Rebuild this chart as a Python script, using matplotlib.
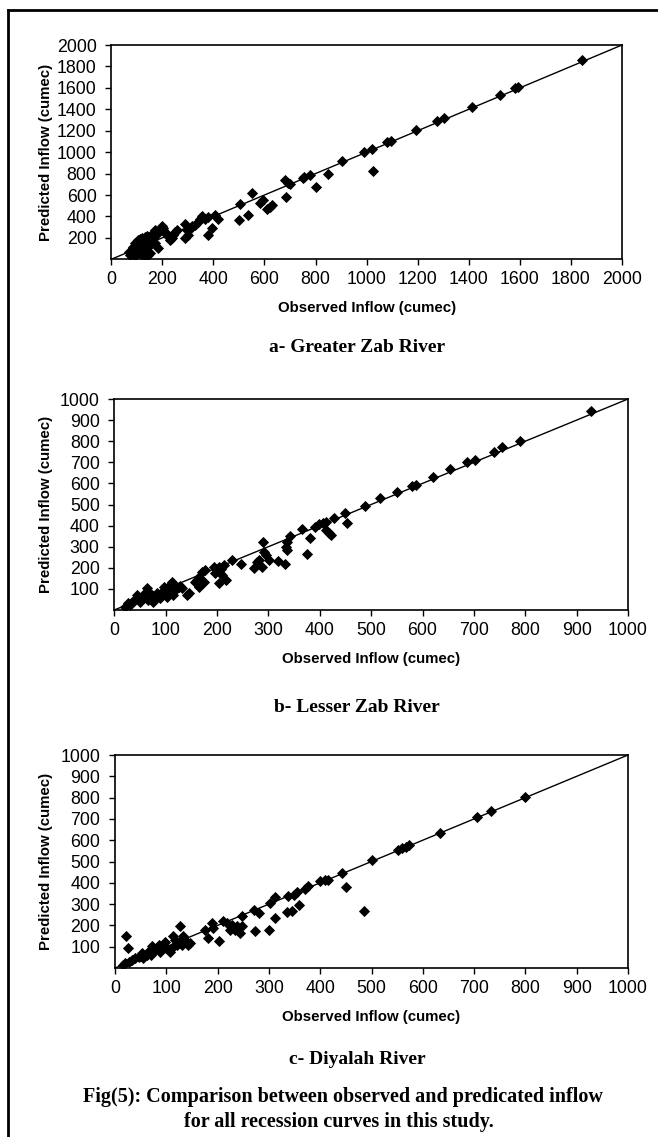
import matplotlib
matplotlib.use("Agg")
import matplotlib.pyplot as plt
from matplotlib.lines import Line2D

# a- Greater Zab River
gz_obs = [74, 70, 80, 87, 93, 100, 106, 113, 119, 126, 132, 139, 145, 152, 158, 165, 171, 178,
          184, 191, 197, 204, 210, 217, 224, 171, 184, 139, 126, 106, 93, 145, 132, 113, 100, 158,
          171, 197, 204, 85, 95, 110, 120, 130, 140, 150, 160, 115, 125, 135, 150, 145, 105, 95,
          237, 243, 250, 256, 230, 289, 295, 302, 289, 308, 315, 328, 341, 348, 354, 367, 380,
          396, 378, 406, 419,
          501, 504, 537, 550, 582, 595, 609, 622, 628, 684, 680, 693, 700, 750, 755, 778, 800,
          850, 905, 990, 1020, 1024, 1079, 1096, 1193, 1276, 1303, 1411, 1522, 1581, 1594, 1842]
gz_pred = [40, 71, 86, 117, 148, 163, 179, 194, 203, 185, 210, 216, 194, 179, 163, 203, 225, 240,
           256, 271, 287, 271, 256, 225, 216, 148, 102, 117, 86, 71, 55, 71, 31, 102, 117, 240,
           277, 308, 296, 60, 90, 140, 160, 150, 180, 130, 200, 50, 120, 90, 60, 40, 130, 30,
           203, 225, 256, 277, 179, 327, 271, 225, 203, 287, 308, 318, 348, 379, 401, 379, 395,
           296, 225, 410, 379,
           370, 518, 416, 620, 527, 549, 466, 487, 509, 580, 740, 713, 703, 760, 770, 790, 673,
           796, 915, 1000, 1030, 821, 1092, 1105, 1205, 1290, 1315, 1420, 1535, 1600, 1610, 1860]

# b- Lesser Zab River
lz_obs = [928, 789, 754, 739, 703, 686, 653, 620, 587, 579, 551, 518, 489,
          450, 453, 428, 412, 406, 399, 391, 412, 417, 422, 381, 376, 366, 342, 336, 334, 337,
          333, 318, 290, 292, 296, 301, 288, 272, 278, 282, 246, 230, 213, 207, 204, 210, 217,
          204, 194, 197, 177, 171, 164, 161, 174, 164, 158, 145, 142, 128, 122,
          112, 109, 106, 102, 99, 96, 93, 86, 83, 80, 73, 66, 63, 60, 53, 47, 44, 40, 34, 31,
          27, 21, 50, 66, 76, 89, 102, 119, 125, 115, 132]
lz_pred = [945, 801, 771, 748, 711, 700, 666, 631, 592, 589, 557, 529, 493,
           458, 411, 434, 415, 411, 407, 395, 379, 366, 355, 340, 265, 382, 351, 324, 300, 284,
           218, 232, 324, 276, 261, 237, 205, 197, 229, 237, 216, 237, 213, 193, 202, 166, 142,
           126, 202, 174, 189, 181, 158, 142, 134, 110, 134, 79, 71, 114, 103,
           134, 118, 110, 95, 79, 110, 87, 71, 79, 55, 71, 87, 102, 79, 63, 55, 71, 47, 39, 23,
           35, 16, 39, 47, 39, 55, 63, 95, 107, 71, 102]

# c- Diyalah River
dy_obs = [800, 733, 706, 634, 574, 567, 559, 552, 501, 486, 451, 442,
          416, 410, 400, 377, 371, 358, 345, 335, 311, 354, 348, 338, 312, 302, 280, 270, 300,
          272, 248, 247, 237, 234, 244, 224, 218, 211, 228, 203, 189, 192, 176, 181, 127,
          133, 136, 130, 124, 117, 114, 143, 146, 111, 107, 97, 94, 85, 78, 72, 65, 62, 52, 46,
          39, 33, 21, 26, 20, 15, 28, 55, 70, 88, 100, 120]
dy_pred = [801, 735, 711, 636, 578, 570, 562, 554, 507, 266, 381, 447,
           415, 411, 408, 384, 373, 297, 266, 261, 237, 356, 345, 340, 332, 305, 258, 274, 179,
           176, 242, 195, 195, 179, 163, 179, 211, 219, 203, 129, 211, 187, 179, 140, 195,
           151, 132, 108, 124, 132, 148, 108, 116, 93, 77, 124, 93, 108, 85, 101, 77, 61, 69, 53,
           45, 38, 148, 93, 25, 15, 30, 45, 60, 75, 95, 110]

panels = [
    ("a- Greater Zab River", gz_obs, gz_pred, 2000, 200),
    ("b- Lesser Zab River", lz_obs, lz_pred, 1000, 100),
    ("c- Diyalah River", dy_obs, dy_pred, 1000, 100),
]

# axes boxes in pixels: left, top, right, bottom
boxes = [(111.2, 45, 622, 259.3), (114.3, 399, 628, 610), (115, 755, 628, 968)]
title_y = [348, 707, 1060]

W, H = 658, 1137
fig = plt.figure(figsize=(W / 100, H / 100), dpi=100)
fig.patch.set_facecolor("white")

for (title, obs, pred, vmax, step), (l, t, r, b), ty in zip(panels, boxes, title_y):
    ax = fig.add_axes([l / W, 1 - b / H, (r - l) / W, (b - t) / H])
    ax.plot([0, vmax], [0, vmax], color="black", lw=1.0, zorder=2)
    ax.plot(obs, pred, ls="none", marker="D", ms=4.9, mfc="black", mec="black", mew=0.6, zorder=3)
    ax.set_xlim(0, vmax)
    ax.set_ylim(0, vmax)
    ax.set_xticks(range(0, vmax + 1, step))
    ax.set_yticks(range(step, vmax + 1, step))
    for s in ax.spines.values():
        s.set_linewidth(1.2)
    ax.tick_params(axis="x", direction="out", length=4.5, width=1, pad=4, labelsize=12.8)
    ax.tick_params(axis="y", direction="out", length=4.5, width=1, pad=6, labelsize=12.8)
    for lab in ax.get_xticklabels() + ax.get_yticklabels():
        lab.set_fontfamily("Liberation Sans")
    ax.set_xlabel("Observed Inflow (cumec)", fontsize=10.8, fontweight="bold", family="Liberation Sans")
    ax.set_ylabel("Predicted Inflow (cumec)", fontsize=10.8, fontweight="bold", family="Liberation Sans")
    ax.xaxis.set_label_coords(0.5, -49 / (b - t))
    ax.xaxis.label.set_va("center")
    ax.yaxis.set_label_coords(-(l - 46) / (r - l), 0.5)
    ax.yaxis.label.set_va("center")
    fig.text(357 / W, 1 - ty / H, title, ha="center", va="center", fontsize=14,
             fontweight="bold", family="Liberation Serif")

fig.text(343 / W, 1 - 1097 / H, "Fig(5): Comparison between observed and predicated inflow",
         ha="center", va="center", fontsize=14.5, fontweight="bold", family="Liberation Serif")
fig.text(339 / W, 1 - 1122 / H, "for all recession curves in this study.",
         ha="center", va="center", fontsize=14.5, fontweight="bold", family="Liberation Serif")

# page frame
fig.add_artist(Line2D([7.5 / W, 7.5 / W], [0, 1 - 10 / H], color="black", lw=2))
fig.add_artist(Line2D([7.5 / W, 1], [1 - 10 / H, 1 - 10 / H], color="black", lw=2))

fig.savefig("out.png", dpi=100, facecolor="white")
